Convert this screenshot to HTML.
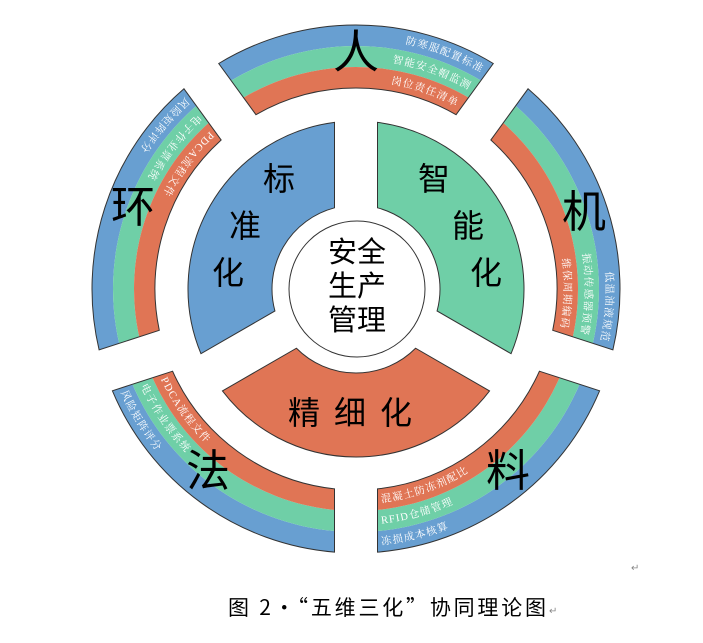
<!DOCTYPE html>
<html><head><meta charset="utf-8">
<style>
html,body{margin:0;padding:0;background:#fff;width:703px;height:643px;overflow:hidden}
svg{display:block}
.big{font-family:"Liberation Sans","Noto Sans CJK SC",sans-serif;fill:#000}
.lab{font-family:"Liberation Serif","Noto Serif CJK SC",serif;fill:#fff;font-size:10.5px;letter-spacing:1.2px}
</style></head>
<body>
<svg id="s" width="703" height="643" viewBox="0 0 703 643" xmlns="http://www.w3.org/2000/svg">
<g id="shapes"></g>
<g id="labels"></g>
<circle cx="357" cy="289" r="68" fill="#fff" stroke="#333" stroke-width="1"/>
<text class="big" x="357" y="262" font-size="29" text-anchor="middle">安全</text>
<text class="big" x="357" y="296" font-size="29" text-anchor="middle">生产</text>
<text class="big" x="357" y="330" font-size="29" text-anchor="middle">管理</text>
<text class="big" x="356" y="68" font-size="46" text-anchor="middle">人</text>
<text class="big" x="584" y="227" font-size="44" text-anchor="middle">机</text>
<text class="big" x="508" y="486" font-size="44" text-anchor="middle">料</text>
<text class="big" x="208" y="486" font-size="44" text-anchor="middle">法</text>
<text class="big" x="133" y="222" font-size="44" text-anchor="middle">环</text>
<text class="big" x="279" y="190" font-size="32" text-anchor="middle">标</text>
<text class="big" x="245" y="237" font-size="32" text-anchor="middle">准</text>
<text class="big" x="228" y="284" font-size="32" text-anchor="middle">化</text>
<text class="big" x="434" y="190" font-size="32" text-anchor="middle">智</text>
<text class="big" x="468" y="237" font-size="32" text-anchor="middle">能</text>
<text class="big" x="486" y="284" font-size="32" text-anchor="middle">化</text>
<text class="big" x="357" y="424" font-size="32" text-anchor="middle" letter-spacing="14">精细化</text>
<text x="631" y="571" font-size="10" fill="#888" font-family="Liberation Sans,sans-serif">↵</text>
<text x="228" y="615" font-size="21" fill="#000" font-family="Noto Sans CJK SC,sans-serif" textLength="318" lengthAdjust="spacing">图 2·“五维三化”协同理论图</text>
<text x="549" y="614" font-size="10" fill="#888" font-family="Liberation Sans,sans-serif">↵</text>
</svg>
<script>
(function(){
var cx=356,cy=289,NS="http://www.w3.org/2000/svg";
var d2r=Math.PI/180;
function P(a,r){return (cx+r*Math.cos(a*d2r)).toFixed(2)+" "+(cy-r*Math.sin(a*d2r)).toFixed(2);}
function sec(a1,a2,R,r,h){
 var s=a1+Math.asin(h/R)/d2r,e=a2-Math.asin(h/R)/d2r;
 var s2=a1+Math.asin(h/r)/d2r,e2=a2-Math.asin(h/r)/d2r;
 return "M"+P(s,R)+" A"+R+" "+R+" 0 0 0 "+P(e,R)+" L"+P(e2,r)+" A"+r+" "+r+" 0 0 1 "+P(s2,r)+" Z";
}
var g=document.getElementById("shapes"),L=document.getElementById("labels");
function add(par,tag,attrs){var el=document.createElementNS(NS,tag);for(var k in attrs)el.setAttribute(k,attrs[k]);par.appendChild(el);return el;}
var B="#689fd1",G="#6fcfa7",Rd="#e07555",st="#333";
var h=21.5;
add(g,"path",{d:sec(90,210,168,84,h),fill:B,stroke:st,"stroke-width":1});
add(g,"path",{d:sec(-30,90,168,84,h),fill:G,stroke:st,"stroke-width":1});
add(g,"path",{d:sec(210,330,168,84,h),fill:Rd,stroke:st,"stroke-width":1});
var segs=[
 {a1:54,a2:126,cw:true,anchor:"end",labs:["防寒服配置标准","智能安全帽监测","岗位责任清单"]},
 {a1:-18,a2:54,cw:true,anchor:"end",labs:["低温油液规范","振动传感器预警","维保周期编码"]},
 {a1:-90,a2:-18,cw:false,anchor:"start",labs:["冻损成本核算","RFID仓储管理","混凝土防冻剂配比"]},
 {a1:198,a2:270,cw:false,anchor:"start",labs:["风险矩阵评分","电子作业票系统","PDCA流程文件"]},
 {a1:126,a2:198,cw:false,anchor:"start",labs:["风险矩阵评分","电子作业票系统","PDCA流程文件"]}
];
var radii=[264,243,222,201],cols=[B,G,Rd];
var id=0;
segs.forEach(function(sg){
 var out=add(g,"g",{});
 for(var i=0;i<3;i++){
  add(out,"path",{d:sec(sg.a1,sg.a2,radii[i],radii[i+1],h),fill:cols[i]});
 }
 add(out,"path",{d:sec(sg.a1,sg.a2,radii[0],radii[3],h),fill:"none",stroke:st,"stroke-width":1});
 for(var i=0;i<3;i++){
  var rm=(radii[i]+radii[i+1])/2-3.5;
  if(!sg.cw) rm=(radii[i]+radii[i+1])/2+3.5;
  var off=Math.asin((h+4)/rm)/d2r;
  var s=sg.a1+off,e=sg.a2-off,d;
  if(sg.cw) d="M"+P(e,rm)+" A"+rm+" "+rm+" 0 0 1 "+P(s,rm);
  else d="M"+P(s,rm)+" A"+rm+" "+rm+" 0 0 0 "+P(e,rm);
  var pid="tp"+(id++);
  add(L,"path",{id:pid,d:d,fill:"none"});
  var t=add(L,"text",{"class":"lab"});
  var tp=add(t,"textPath",{href:"#"+pid,startOffset:sg.anchor=="end"?"100%":"0%","text-anchor":sg.anchor});
  tp.setAttributeNS("http://www.w3.org/1999/xlink","xlink:href","#"+pid);
  tp.textContent=sg.labs[i];
 }
});
})();
</script>
</body></html>
